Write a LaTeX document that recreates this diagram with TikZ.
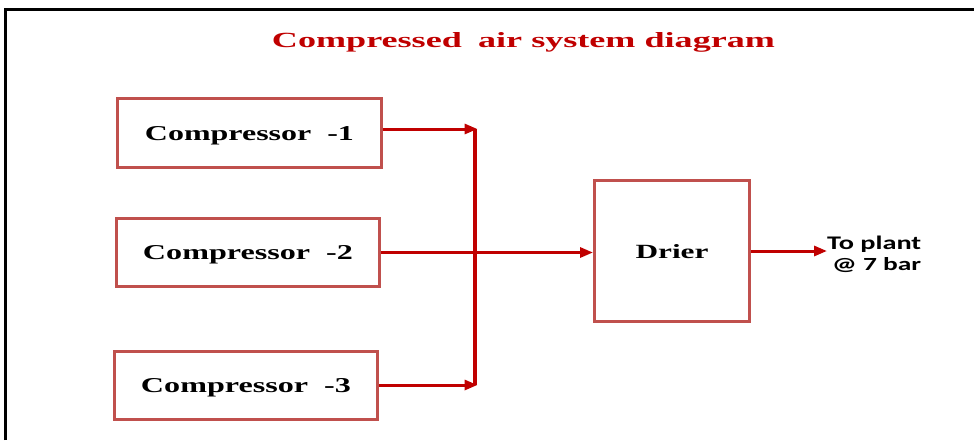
\documentclass[tikz,border=0pt]{standalone}
\usepackage{fontspec}
\setmainfont{Liberation Serif}
\newfontfamily\labelsans{Carlito}
\usetikzlibrary{arrows.meta}
\definecolor{boxred}{HTML}{C0504D}
\definecolor{arrred}{HTML}{C00000}
\newcommand{\fitto}[3]{\resizebox{#1}{#2}{#3}}
\begin{document}
\begin{tikzpicture}[x=1pt,y=-1pt,
  blk/.style={draw=boxred,line width=3pt,fill=white,inner sep=0pt,
    text height=14pt,text depth=0pt},
  arr/.style={draw=arrred,line width=3pt,-{Triangle[length=13pt,width=10pt]}},
  bus/.style={draw=arrred,line width=4.6pt,line cap=square}]
\useasboundingbox (0,0) rectangle (974,440);
\fill[white] (0,0) rectangle (974,440);
\draw[line width=3pt] (5.5,440) -- (5.5,9.5) -- (974,9.5);

\node[anchor=base,text=arrred,inner sep=0pt] (title) at (523.5,47)
  {\fitto{503pt}{15pt}{\bfseries Compressed\hspace{0.45em}air system diagram}};

\node[blk,minimum width=264pt,minimum height=69pt] (c1) at (249.5,133)
  {\fitto{209pt}{14pt}{\bfseries Compressor\ \ -1}};
\node[blk,minimum width=263pt,minimum height=68pt] (c2) at (248,252.5)
  {\fitto{210pt}{14pt}{\bfseries Compressor\ \ -2}};
\node[blk,minimum width=263pt,minimum height=68pt] (c3) at (246,385.5)
  {\fitto{210pt}{14pt}{\bfseries Compressor\ \ -3}};
\node[blk,minimum width=155pt,minimum height=141pt] (drier) at (672,251)
  {\fitto{73pt}{14pt}{\bfseries Drier}};

\node[anchor=north west,inner sep=0pt,align=right,
  font=\fontsize{10pt}{21pt}\selectfont] (out) at (827,235.5)
  {\fitto{94pt}{13.5pt}{\labelsans\bfseries To plant}\\
   \fitto{89pt}{13pt}{\labelsans\bfseries @ 7 bar}};

\coordinate (bustop) at (475,129);
\coordinate (busbot) at (475,385);
\draw[bus] (bustop) -- (busbot);

\draw[arr] (c1.east |- bustop) -- ([xshift=2.5pt]bustop);
\draw[arr] (c3.east |- busbot) -- ([xshift=2.5pt]busbot);
\draw[arr] (c2.east) -- (c2.east -| drier.west);
\draw[arr] (drier.east) -- (drier.east -| out.west);
\end{tikzpicture}
\end{document}
